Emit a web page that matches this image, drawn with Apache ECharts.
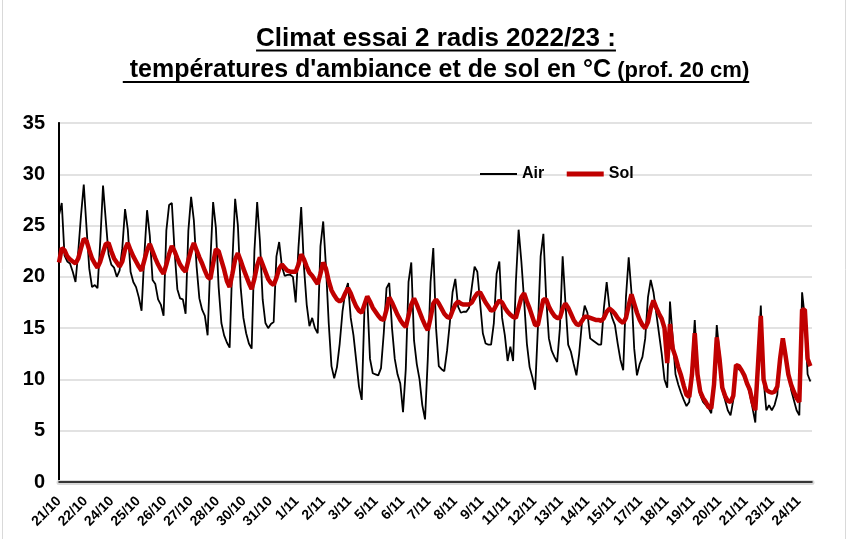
<!DOCTYPE html>
<html>
<head>
<meta charset="utf-8">
<title>Climat essai 2 radis 2022/23</title>
<script src="https://cdn.jsdelivr.net/npm/echarts@6/dist/echarts.min.js"></script>
<style>
  html, body { margin: 0; padding: 0; background: #fff; }
  #chart { width: 849px; height: 539px; }
</style>
</head>
<body>
<div id="chart"></div>
<script>
// étiquettes de l'axe des x (une tous les 1,2 jours)
const xLabels = ['21/10', '22/10', '24/10', '25/10', '26/10', '27/10', '28/10', '30/10', '31/10',
  '1/11', '2/11', '3/11', '5/11', '6/11', '7/11', '8/11', '9/11', '11/11', '12/11', '13/11',
  '14/11', '15/11', '17/11', '18/11', '19/11', '20/11', '21/11', '23/11', '24/11'];
const labelStep = 1.2;   // jours entre deux étiquettes
const step = 0.125;      // un relevé toutes les 3 h (en jours)

// température de l'air (°C), 8 relevés par jour
const air = [
  26.0, 27.2, 22.1, 21.5, 21.3, 20.5, 19.5, 22.5,
  26.0, 29.0, 24.8, 20.8, 19.0, 19.2, 18.9, 23.5,
  28.9, 25.5, 22.2, 21.2, 20.9, 20.0, 20.6, 22.8,
  26.6, 24.6, 20.5, 19.5, 19.0, 18.0, 16.7, 22.1,
  26.5, 24.0, 19.7, 19.3, 17.8, 17.3, 16.2, 24.5,
  27.0, 27.2, 22.5, 18.8, 17.9, 17.8, 16.4, 24.5,
  27.8, 25.5, 21.0, 17.9, 16.8, 16.2, 14.3, 21.5,
  27.3, 24.8, 19.0, 15.5, 14.3, 13.6, 13.1, 21.5,
  27.6, 25.0, 19.0, 16.0, 14.5, 13.5, 13.0, 22.5,
  27.3, 23.5, 17.8, 15.5, 15.0, 15.4, 15.6, 22.0,
  23.4, 21.0, 20.1, 20.2, 20.2, 20.0, 17.5, 22.8,
  26.8, 21.0, 17.3, 15.2, 16.0, 15.0, 14.5, 23.0,
  25.4, 21.0, 15.5, 11.3, 10.1, 11.2, 13.5, 16.6,
  18.5, 19.4, 16.0, 14.3, 11.8, 9.3, 8.0, 17.0,
  18.0, 12.0, 10.6, 10.5, 10.4, 11.1, 14.5, 18.9,
  19.4, 15.0, 12.0, 10.5, 9.6, 6.8, 11.0, 19.5,
  21.4, 13.8, 11.5, 10.0, 7.5, 6.1, 12.0, 19.5,
  22.8, 15.0, 11.3, 11.0, 10.8, 12.8, 15.5, 18.5,
  19.8, 17.1, 16.5, 16.6, 16.6, 17.0, 19.0, 21.0,
  20.5, 17.5, 14.5, 13.5, 13.4, 13.4, 15.5, 20.3,
  21.5, 16.0, 14.3, 11.8, 13.2, 11.8, 19.5, 24.6,
  21.5, 17.7, 13.5, 11.2, 10.2, 9.0, 15.0, 22.0,
  24.2, 18.0, 14.0, 12.8, 12.2, 11.7, 15.0, 22.0,
  17.5, 13.4, 12.7, 11.5, 10.4, 12.5, 15.5, 17.2,
  16.5, 14.0, 13.8, 13.6, 13.4, 13.4, 17.0, 19.5,
  17.0, 16.0, 15.3, 13.5, 11.9, 10.9, 18.0, 21.9,
  18.5, 13.0, 10.4, 11.5, 12.2, 14.0, 18.0, 19.7,
  18.5, 16.5, 14.5, 12.5, 10.0, 9.2, 17.6, 14.0,
  10.5, 9.5, 8.7, 8.0, 7.4, 7.8, 11.5, 15.8,
  11.0, 8.5, 7.8, 7.5, 7.2, 6.7, 10.0, 15.3,
  12.5, 9.0, 8.0, 7.0, 6.5, 8.0, 11.3, 11.0,
  10.8, 10.2, 9.5, 8.6, 7.2, 5.8, 12.0, 17.2,
  10.0, 7.0, 7.5, 7.0, 7.5, 8.5, 12.5, 14.0,
  12.0, 10.5, 9.0, 8.0, 7.0, 6.5, 18.5, 16.0,
  10.5, 9.8
];

// température du sol à 20 cm (°C), mêmes instants
const sol = [
  21.4, 22.8, 22.6, 22.0, 21.7, 21.5, 21.3, 21.8,
  22.8, 23.7, 23.5, 22.6, 21.8, 21.3, 20.9, 21.5,
  22.4, 23.2, 23.3, 22.5, 21.8, 21.4, 21.0, 21.5,
  22.7, 23.3, 22.6, 22.0, 21.5, 21.0, 20.6, 21.6,
  22.6, 23.2, 22.5, 21.8, 21.2, 20.7, 20.3, 21.2,
  22.2, 23.0, 22.5, 21.8, 21.2, 20.8, 20.5, 21.6,
  22.6, 23.3, 22.6, 21.9, 21.3, 20.6, 20.0, 19.8,
  21.3, 22.7, 22.5, 21.6, 20.7, 19.6, 19.0, 20.3,
  21.7, 22.3, 21.6, 20.8, 20.1, 19.4, 18.8, 19.8,
  21.1, 21.9, 21.2, 20.5, 19.8, 19.4, 19.2, 19.9,
  20.8, 21.2, 20.9, 20.6, 20.5, 20.5, 20.5, 21.2,
  22.2, 21.7, 21.0, 20.4, 20.1, 19.7, 19.3, 20.3,
  21.4, 20.8, 19.6, 18.7, 18.2, 17.8, 17.6, 17.8,
  18.4, 18.9, 18.4, 17.7, 17.1, 16.7, 16.5, 17.3,
  18.1, 17.6, 17.0, 16.6, 16.2, 15.9, 15.8, 16.8,
  18.0, 17.5, 16.9, 16.3, 15.8, 15.4, 15.1, 16.2,
  17.3, 17.9, 17.3, 16.6, 15.9, 15.3, 14.8, 16.0,
  17.4, 17.8, 17.4, 16.9, 16.4, 16.1, 16.0, 16.7,
  17.3, 17.6, 17.4, 17.3, 17.3, 17.3, 17.5, 18.0,
  18.4, 18.5, 18.0, 17.5, 17.1, 16.7, 16.8, 17.3,
  17.7, 17.5, 17.0, 16.6, 16.3, 16.1, 16.0, 17.0,
  18.0, 18.4, 17.6, 16.9, 16.1, 15.3, 15.3, 16.6,
  17.8, 17.8, 17.1, 16.6, 16.2, 16.0, 16.0, 16.9,
  17.4, 17.0, 16.4, 15.8, 15.4, 15.3, 15.7, 16.1,
  16.1, 16.0, 15.9, 15.8, 15.8, 15.7, 16.0, 16.6,
  16.9, 16.7, 16.4, 16.0, 15.7, 15.5, 16.0, 17.2,
  18.3, 17.4, 16.5, 15.8, 15.3, 15.0, 15.6, 16.9,
  17.7, 17.0, 16.4, 15.9, 15.0, 11.6, 15.4, 13.0,
  12.2, 11.2, 10.4, 9.4, 8.5, 8.3, 10.5, 14.5,
  10.5, 8.8, 8.2, 7.8, 7.3, 7.2, 9.5, 14.1,
  12.0, 9.2, 8.4, 7.9, 7.8, 8.4, 11.4, 11.3,
  10.9, 10.4, 9.6, 9.0, 7.8, 7.0, 11.5, 16.2,
  10.0, 9.0, 8.8, 8.7, 8.8, 9.3, 12.0, 14.0,
  12.3, 10.5, 9.5, 8.8, 8.2, 7.8, 16.8, 16.8,
  12.0, 11.3
];

const fontFamily = '"Liberation Sans", Arial, sans-serif';
const title1 = 'Climat essai 2 radis 2022/23 :';
const title2a = ' températures d\'ambiance et de sol en °C';
const title2b = ' (prof. 20 cm)';

// mesure des textes pour placer les soulignements
const ctx = document.createElement('canvas').getContext('2d');
function textWidth(s, size) {
  ctx.font = 'bold ' + size + 'px ' + fontFamily;
  return ctx.measureText(s).width;
}
const cx = 436;
const w1 = textWidth(title1, 26);
const w2a = textWidth(title2a, 25);
const w2b = textWidth(title2b, 22);
const x2 = cx - (w2a + w2b) / 2;

const chart = echarts.init(document.getElementById('chart'));

chart.setOption({
  animation: false,
  backgroundColor: '#fff',
  textStyle: { fontFamily: fontFamily },
  graphic: [
    { type: 'rect', shape: { x: 2.5, y: -3, width: 843, height: 546 },
      style: { fill: 'none', stroke: '#d9d9d9', lineWidth: 1 } },
    { type: 'text', style: { text: title1, x: cx, y: 39, textAlign: 'center', verticalAlign: 'middle',
        font: 'bold 26px ' + fontFamily, fill: '#000' } },
    { type: 'line', shape: { x1: cx - w1 / 2, y1: 50.5, x2: cx + w1 / 2, y2: 50.5 },
      style: { stroke: '#000', lineWidth: 2 } },
    { type: 'text', style: { text: title2a, x: x2, y: 70, textAlign: 'left', verticalAlign: 'middle',
        font: 'bold 25px ' + fontFamily, fill: '#000' } },
    { type: 'text', style: { text: title2b, x: x2 + w2a, y: 71, textAlign: 'left', verticalAlign: 'middle',
        font: 'bold 22px ' + fontFamily, fill: '#000' } },
    { type: 'line', shape: { x1: x2, y1: 82, x2: x2 + w2a + w2b, y2: 82 },
      style: { stroke: '#000', lineWidth: 2 } }
  ],
  legend: {
    data: [
      { name: 'Air', lineStyle: { width: 2 } },
      { name: 'Sol', lineStyle: { width: 5 } }
    ],
    left: 479,
    top: 166,
    padding: 0,
    itemWidth: 37,
    itemHeight: 12,
    itemGap: 20,
    itemStyle: { opacity: 0 },
    textStyle: { fontSize: 16, fontWeight: 'bold', color: '#000' }
  },
  grid: { left: 59, right: 37, top: 123, bottom: 57 },
  xAxis: [
    {
      type: 'value',
      min: 0,
      max: 34.2,
      interval: labelStep,
      offset: 3,
      axisLine: { lineStyle: { color: '#d9d9d9', width: 5 } },
      axisTick: { show: false },
      splitLine: { show: false },
      axisLabel: {
        rotate: 45,
        margin: 14,
        fontSize: 14,
        fontWeight: 'bold',
        color: '#000',
        showMaxLabel: false,
        formatter: function (v) {
          const k = Math.round(v / labelStep);
          return Math.abs(k * labelStep - v) < 1e-6 ? (xLabels[k] || '') : '';
        }
      }
    },
    {
      type: 'value', position: 'top', min: 0, max: 34.2,
      axisLine: { show: true, lineStyle: { color: '#000', width: 1.5 } },
      axisTick: { show: false }, axisLabel: { show: false }, splitLine: { show: false }
    }
  ],
  yAxis: [
    {
      type: 'value',
      min: 0,
      max: 35,
      interval: 5,
      axisLine: { show: true, lineStyle: { color: '#000', width: 2 } },
      axisTick: { show: false },
      axisLabel: { fontSize: 20, fontWeight: 'bold', color: '#000', margin: 14 },
      splitLine: { lineStyle: { color: '#d9d9d9', width: 1.5 } }
    },
    {
      type: 'value', position: 'right', min: 0, max: 35,
      axisLine: { show: true, lineStyle: { color: '#000', width: 1.5 } },
      axisTick: { show: false }, axisLabel: { show: false }, splitLine: { show: false }
    }
  ],
  series: [
    {
      name: 'Air',
      type: 'line',
      data: air.map((v, i) => [i * step, v]),
      showSymbol: false,
      symbol: 'none',
      color: '#000',
      lineStyle: { color: '#000', width: 1.8 }
    },
    {
      name: 'Sol',
      type: 'line',
      data: sol.map((v, i) => [i * step, v]),
      showSymbol: false,
      symbol: 'none',
      color: '#c00000',
      lineStyle: { color: '#c00000', width: 4.5 }
    }
  ]
});
</script>
</body>
</html>
